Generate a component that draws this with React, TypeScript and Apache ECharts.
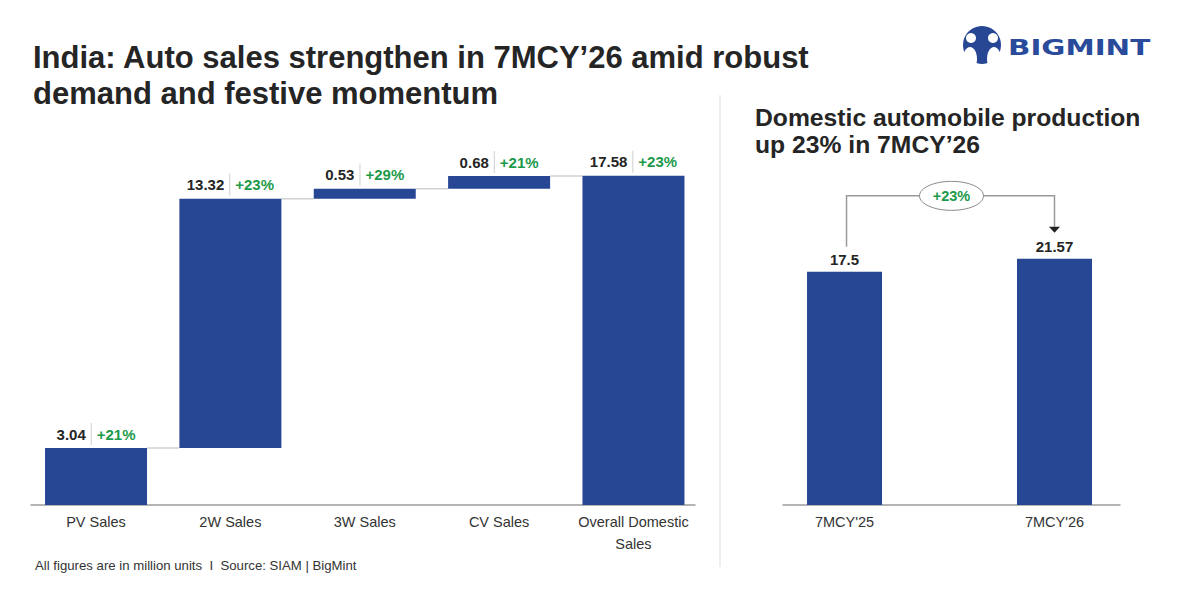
import React, { useEffect, useRef } from 'react';
import * as echarts from 'echarts';

const salesCategories = ['PV Sales', '2W Sales', '3W Sales', 'CV Sales', 'Overall Domestic\nSales'];
const salesValues = [3.04, 13.32, 0.53, 0.68, 17.58];
const salesGrowth = ['+21%', '+23%', '+29%', '+21%', '+23%'];
const salesIsTotal = [false, false, false, false, true];

const prodCategories = ["7MCY'25", "7MCY'26"];
const prodValues = [17.5, 21.57];
const prodGrowth = '+23%';

const mainTitle = 'India: Auto sales strengthen in 7MCY\u201926 amid robust\ndemand and festive momentum';
const sideTitle = 'Domestic automobile production\nup 23% in 7MCY\u201926';
const footnote = 'All figures are in million units  I  Source: SIAM | BigMint';
const brand = 'BIGMINT';

const BLUE = '#274795';
const GREEN = '#1c9a4b';
const DARK = '#252525';
const FONT = '"Liberation Sans", Arial, sans-serif';
const BAR_W = 102;
const PROD_BAR_W = 75;

export default function App() {
  const ref = useRef<HTMLDivElement>(null);

  useEffect(() => {
    if (!ref.current) return;
    const chart = echarts.init(ref.current, undefined, { renderer: 'svg' });

    // waterfall bases built from the values
    let cum = 0;
    const bases = salesValues.map((v, i) => {
      if (salesIsTotal[i]) return 0;
      const b = cum;
      cum += v;
      return b;
    });
    const tops = salesValues.map((v, i) => bases[i] + v);
    const waterfallData = salesValues.map((v, i) => [i, bases[i], tops[i]]);
    const connectorData = tops.slice(0, tops.length - 1).map((t, i) => [i, t]);

    const toIndex = (v: number) => {
      const r = Math.round(v);
      return Math.abs(v - r) > 1e-6 ? -1 : r;
    };

    const valueLabelRich = {
      v: { fontSize: 15, fontWeight: 'bold', fill: DARK, color: DARK, fontFamily: FONT, padding: [0, 5, 0, 0] },
      s: { width: 1, height: 22, backgroundColor: '#cfcfcf' },
      p: { fontSize: 15, fontWeight: 'bold', fill: GREEN, color: GREEN, fontFamily: FONT, padding: [0, 0, 0, 5] },
    };

    const axisCommon = {
      splitLine: { show: false },
      axisTick: { show: false },
      axisLine: { show: true, onZero: false, lineStyle: { color: '#9c9c9c', width: 1.5 } },
    };

    const option: any = {
      animation: false,
      backgroundColor: '#ffffff',
      textStyle: { fontFamily: FONT },
      grid: [
        { left: 31, right: 505, top: 168, bottom: 95 },
        { left: 783, right: 80, top: 200, bottom: 95 },
      ],
      xAxis: [
        {
          type: 'value',
          gridIndex: 0,
          min: -0.484,
          max: 4.458,
          ...axisCommon,
          axisLabel: {
            customValues: salesCategories.map((_, i) => i),
            formatter: (v: number) => {
              const r = toIndex(v);
              return r < 0 ? '' : salesCategories[r] ?? '';
            },
            color: '#333',
            fontSize: 14.5,
            lineHeight: 22,
            margin: 6,
            fontFamily: FONT,
          },
        },
        {
          type: 'value',
          gridIndex: 1,
          min: -0.293,
          max: 1.312,
          ...axisCommon,
          axisLabel: {
            customValues: prodCategories.map((_, i) => i),
            formatter: (v: number) => {
              const r = toIndex(v);
              return r < 0 ? '' : prodCategories[r] ?? '';
            },
            color: '#333',
            fontSize: 14.5,
            lineHeight: 22,
            margin: 6,
            fontFamily: FONT,
          },
        },
      ],
      yAxis: [
        { type: 'value', gridIndex: 0, min: 0, max: 18, show: false },
        { type: 'value', gridIndex: 1, min: -55.5, max: 40, show: false },
      ],
      series: [
        {
          type: 'custom',
          name: 'Domestic sales',
          xAxisIndex: 0,
          yAxisIndex: 0,
          z: 2,
          encode: { x: 0, y: [1, 2] },
          data: waterfallData,
          renderItem: (params: any, api: any) => {
            const i = api.value(0);
            const lo = api.coord([i, api.value(1)]);
            const hi = api.coord([i, api.value(2)]);
            return {
              type: 'rect',
              shape: { x: lo[0] - BAR_W / 2, y: hi[1], width: BAR_W, height: lo[1] - hi[1] },
              style: { fill: BLUE },
              textContent: {
                style: {
                  text: `{v|${salesValues[params.dataIndex].toFixed(2)}}{s|}{p|${salesGrowth[params.dataIndex]}}`,
                  rich: valueLabelRich,
                },
              },
              textConfig: { position: 'top', distance: 3 },
            };
          },
        },
        {
          type: 'custom',
          xAxisIndex: 0,
          yAxisIndex: 0,
          silent: true,
          z: 1,
          encode: { x: 0, y: 1 },
          data: connectorData,
          renderItem: (params: any, api: any) => {
            const i = api.value(0);
            const t = api.value(1);
            const a = api.coord([i, t]);
            const b = api.coord([i + 1, t]);
            return {
              type: 'line',
              shape: { x1: a[0] + BAR_W / 2, y1: a[1], x2: b[0] - BAR_W / 2, y2: b[1] },
              style: { stroke: '#d2d2d2', lineWidth: 1.5 },
            };
          },
        },
        {
          type: 'custom',
          name: 'Production',
          xAxisIndex: 1,
          yAxisIndex: 1,
          z: 2,
          encode: { x: 0, y: 1 },
          data: prodValues.map((v, i) => [i, v]),
          renderItem: (params: any, api: any) => {
            const i = api.value(0);
            const top = api.coord([i, api.value(1)]);
            const bottom = params.coordSys.y + params.coordSys.height;
            return {
              type: 'rect',
              shape: { x: top[0] - PROD_BAR_W / 2, y: top[1], width: PROD_BAR_W, height: bottom - top[1] },
              style: { fill: BLUE },
              textContent: {
                style: {
                  text: String(prodValues[params.dataIndex]),
                  fill: DARK,
                  fontSize: 15,
                  fontWeight: 'bold',
                  fontFamily: FONT,
                },
              },
              textConfig: { position: 'top', distance: 5 },
            };
          },
        },
        {
          type: 'custom',
          xAxisIndex: 1,
          yAxisIndex: 1,
          silent: true,
          z: 5,
          encode: { x: 0, y: 1 },
          data: [[0, prodValues[0]]],
          renderItem: (params: any, api: any) => {
            const a = api.coord([0, prodValues[0]]);
            const b = api.coord([1, prodValues[1]]);
            const by = Math.min(a[1], b[1]) - 63;
            const cx = (a[0] + b[0]) / 2 + 2;
            const rx = 32;
            const ry = 14.5;
            const lineStyle = { stroke: '#9a9a9a', lineWidth: 1.5, fill: 'none' };
            return {
              type: 'group',
              children: [
                {
                  type: 'polyline',
                  shape: { points: [[a[0] + 2, a[1] - 25], [a[0] + 2, by], [cx - rx, by]] },
                  style: lineStyle,
                },
                {
                  type: 'polyline',
                  shape: { points: [[cx + rx, by], [b[0], by], [b[0], b[1] - 32]] },
                  style: lineStyle,
                },
                {
                  type: 'polygon',
                  shape: { points: [[b[0] - 5.5, b[1] - 32], [b[0] + 5.5, b[1] - 32], [b[0], b[1] - 26]] },
                  style: { fill: '#222' },
                },
                {
                  type: 'ellipse',
                  shape: { cx, cy: by, rx, ry },
                  style: { fill: '#fff', stroke: '#8a8a8a', lineWidth: 1 },
                },
                {
                  type: 'text',
                  x: cx,
                  y: by,
                  style: {
                    text: prodGrowth,
                    align: 'center',
                    verticalAlign: 'middle',
                    fill: GREEN,
                    font: `bold 14.5px ${FONT}`,
                  },
                },
              ],
            };
          },
        },
      ],
      graphic: [
        {
          type: 'text',
          left: 33,
          top: 39,
          style: {
            text: mainTitle,
            fill: DARK,
            font: `bold 31px ${FONT}`,
            lineHeight: 36,
          },
        },
        {
          type: 'text',
          left: 755,
          top: 104,
          style: {
            text: sideTitle,
            fill: DARK,
            font: `bold 24.7px ${FONT}`,
            lineHeight: 27,
          },
        },
        {
          type: 'text',
          left: 35,
          top: 559,
          style: {
            text: footnote,
            fill: '#333',
            font: `13.2px ${FONT}`,
          },
        },
        {
          type: 'line',
          shape: { x1: 720, y1: 95, x2: 720, y2: 567 },
          style: { stroke: '#e3e3e3', lineWidth: 1.2 },
        },
        {
          type: 'group',
          children: [
            { type: 'circle', shape: { cx: 982, cy: 45, r: 19 }, style: { fill: BLUE } },
            { type: 'ellipse', shape: { cx: 970, cy: 59, rx: 7, ry: 12 }, style: { fill: '#fff' } },
            { type: 'ellipse', shape: { cx: 994, cy: 59, rx: 7, ry: 12 }, style: { fill: '#fff' } },
            { type: 'circle', shape: { cx: 971, cy: 38, r: 5 }, style: { fill: '#fff' } },
            { type: 'circle', shape: { cx: 993, cy: 38, r: 5 }, style: { fill: '#fff' } },
            { type: 'rect', shape: { x: 958, y: 64, width: 48, height: 6 }, style: { fill: '#fff' } },
          ],
        },
        {
          type: 'text',
          x: 1008,
          y: 48,
          scaleX: 1.4,
          style: {
            text: brand,
            fill: '#2a4a9b',
            font: `bold 21px "DejaVu Sans", sans-serif`,
            verticalAlign: 'middle',
          },
        },
      ],
    };

    chart.setOption(option);
    return () => chart.dispose();
  }, []);

  return (
    <div
      ref={ref}
      style={{ position: 'absolute', left: 0, top: 0, width: 1200, height: 600, background: '#fff' }}
    />
  );
}
